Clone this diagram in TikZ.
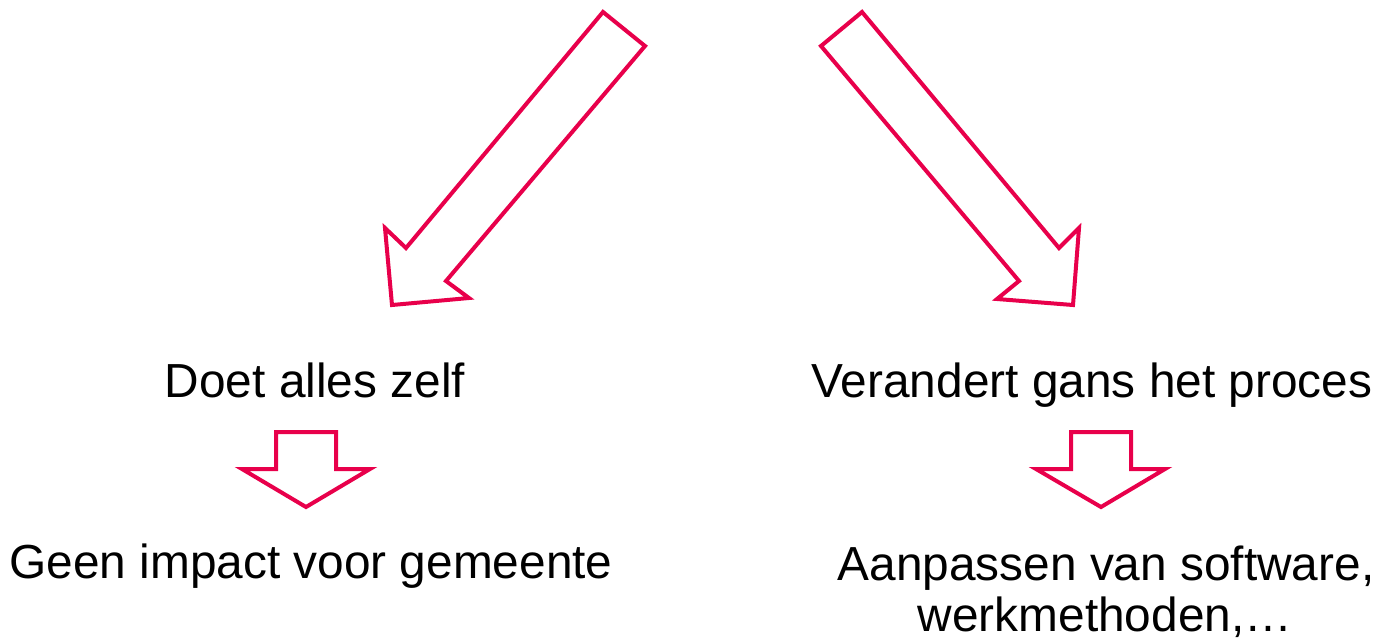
\documentclass[tikz,border=0pt]{standalone}
\usepackage{fontspec}
\setmainfont{Liberation Sans}
\definecolor{crim}{HTML}{E8004B}
\begin{document}
\begin{tikzpicture}[x=0.5pt,y=-0.5pt,
  blockarrow/.style={draw=crim, line width=2pt, line join=miter},
  lbl/.style={font=\fontsize{23.9}{29}\selectfont, inner sep=0pt, anchor=base}]
\useasboundingbox (0,0) rectangle (1380,638);
% big arrows
\draw[blockarrow] (603,12) -- (645,46) -- (446,281) -- (469,298) -- (392,305) -- (385,228) -- (406,248) -- cycle;
\draw[blockarrow] (862,12) -- (821,46) -- (1019,281) -- (997,299) -- (1073,305) -- (1079,228) -- (1059,248) -- cycle;
% small arrows
\draw[blockarrow] (276,432) -- (336,432) -- (336,469) -- (370,469) -- (306,507) -- (242,469) -- (276,469) -- cycle;
\draw[blockarrow] (1071,432) -- (1131,432) -- (1131,469) -- (1165,469) -- (1101,507) -- (1036,469) -- (1071,469) -- cycle;
% texts
\node[lbl] (zelf) at (315,397) {Doet alles zelf};
\node[lbl] (proces) at (1092,397) {Verandert gans het proces};
\node[lbl] (geen) at (311,578) {Geen impact voor gemeente};
\node[lbl] (aanp) at (1106,580) {Aanpassen van software,};
\node[lbl] (werk) at (1105,631) {werkmethoden,…};
\end{tikzpicture}
\end{document}
